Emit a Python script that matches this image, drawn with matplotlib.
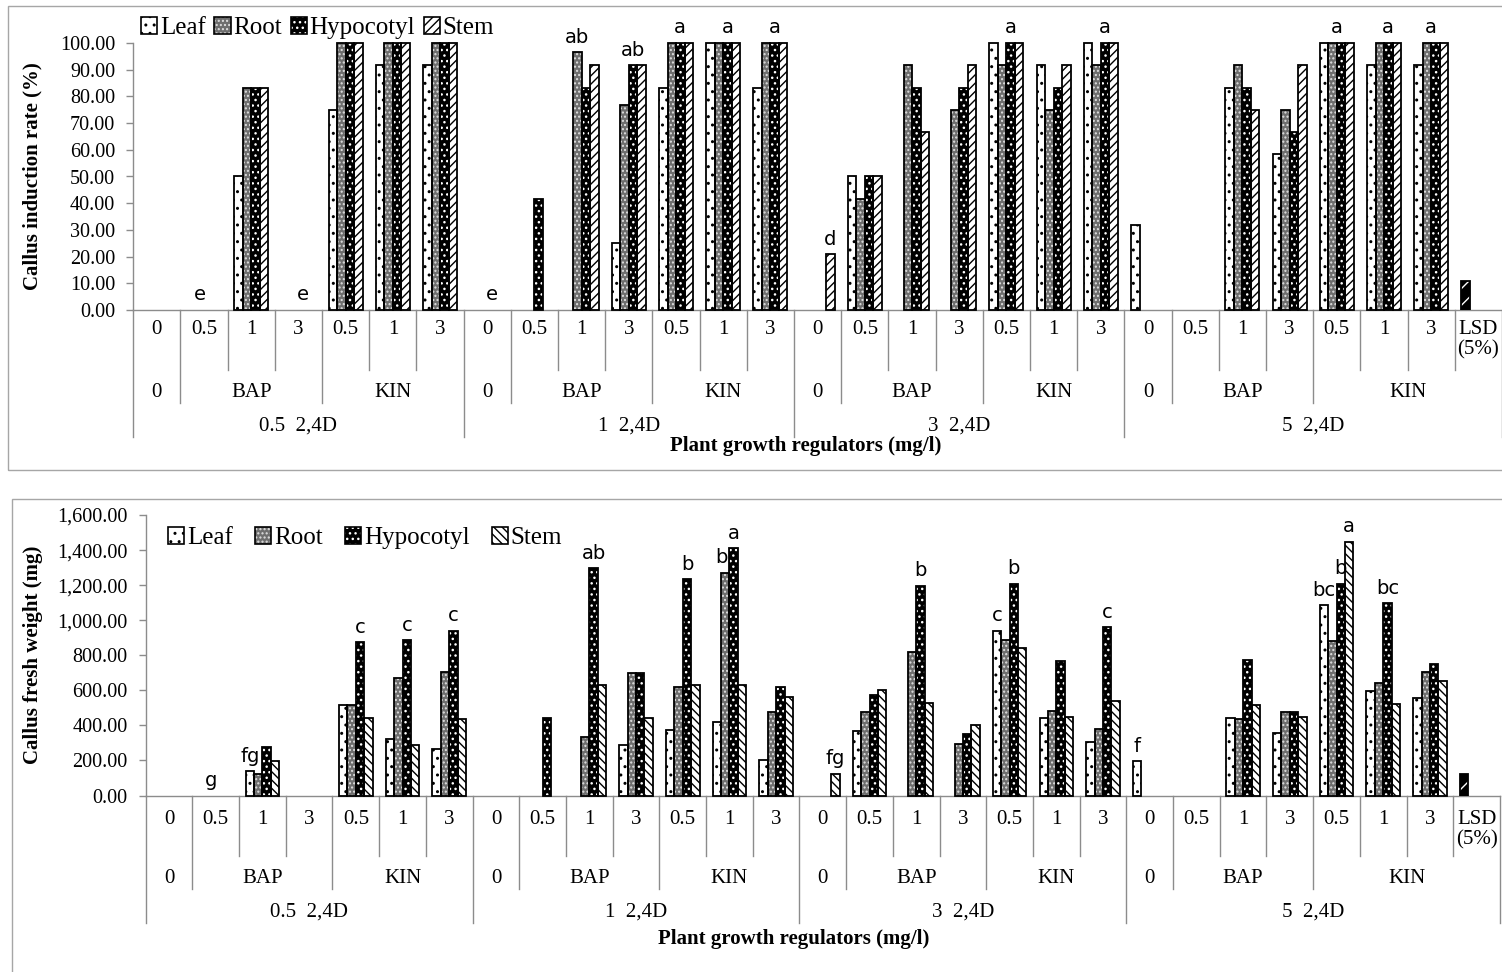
import matplotlib.pyplot as plt
import numpy as np
from matplotlib.patches import Patch, Rectangle
from matplotlib.legend_handler import HandlerTuple

plt.rcParams['font.family'] = ['Liberation Serif', 'DejaVu Serif']
plt.rcParams['hatch.linewidth'] = 1.0

# x axis levels
level1 = ['0', '0.5', '1', '3', '0.5', '1', '3'] * 4 + ['LSD\n(5%)']
level2 = ['0', 'BAP', 'KIN']
level3 = ['0.5  2,4D', '1  2,4D', '3  2,4D', '5  2,4D']
series = ['Leaf', 'Root', 'Hypocotyl', 'Stem']

# callus induction rate (%)
rate_leaf = [0, 0, 50, 0, 75, 91.67, 91.67,
             0, 0, 0, 25, 83.33, 100, 83.33,
             0, 50, 0, 0, 100, 91.67, 100,
             31.67, 0, 83.33, 58.33, 100, 91.67, 91.67]
rate_root = [0, 0, 83.33, 0, 100, 100, 100,
             0, 0, 96.5, 76.67, 100, 100, 100,
             0, 41.67, 91.67, 75, 91.67, 75, 91.67,
             0, 0, 91.67, 75, 100, 100, 100]
rate_hyp = [0, 0, 83.33, 0, 100, 100, 100,
            0, 41.67, 83.33, 91.67, 100, 100, 100,
            0, 50, 83.33, 83.33, 100, 83.33, 100,
            0, 0, 83.33, 66.67, 100, 100, 100]
rate_stem = [0, 0, 83.33, 0, 100, 100, 100,
             0, 0, 91.67, 91.67, 100, 100, 100,
             20.83, 50, 66.67, 91.67, 100, 91.67, 100,
             0, 0, 75, 91.67, 100, 100, 100]
rate_lsd = 10.9
# (category, series position, letter)
rate_letters = [(1, 1, 'e'), (3, 2, 'e'), (7, 2, 'e'), (9, 1, 'ab'), (10, 2, 'ab'),
                (11, 2, 'a'), (12, 2, 'a'), (13, 2, 'a'), (14, 3, 'd'), (18, 2, 'a'),
                (20, 2, 'a'), (25, 1.5, 'a'), (26, 2, 'a'), (27, 1.5, 'a')]

# callus fresh weight (mg)
wt_leaf = [0, 0, 137, 0, 516, 323, 266,
           0, 0, 0, 289, 376, 421, 205,
           0, 370, 0, 0, 940, 442, 307,
           195, 0, 442, 357, 1086, 594, 554]
wt_root = [0, 0, 124, 0, 516, 670, 702,
           0, 0, 332, 699, 621, 1272, 475,
           0, 475, 816, 294, 886, 484, 380,
           0, 0, 435, 475, 883, 640, 706]
wt_hyp = [0, 0, 275, 0, 873, 886, 940,
          0, 442, 1295, 699, 1234, 1410, 621,
          0, 573, 1196, 351, 1209, 765, 959,
          0, 0, 773, 475, 1209, 1097, 750]
wt_stem = [0, 0, 199, 0, 442, 289, 437,
           0, 0, 632, 442, 632, 632, 560,
           123, 602, 528, 404, 841, 446, 541,
           0, 0, 516, 446, 1448, 522, 655]
wt_lsd = 123
wt_letters = [(1, 1, 'g'), (2, 0, 'fg'), (4, 2, 'c'), (5, 2, 'c'), (6, 2, 'c'),
              (9, 2, 'ab'), (11, 2, 'b'), (12, 0.5, 'b'), (12, 2, 'a'), (14, 3, 'fg'),
              (16, 2, 'b'), (18, 0, 'c'), (18, 2, 'b'), (20, 2, 'c'), (21, 0, 'f'),
              (25, 0, 'bc'), (25, 2, 'b'), (25, 3, 'a'), (26, 2, 'bc')]

W, H = 1502, 972
GRAY = '#8c8c8c'
BW = 0.18

fig = plt.figure(figsize=(W / 100, H / 100), dpi=100)


def px_box(l, t, r, b):
    return [l / W, 1 - b / H, (r - l) / W, (b - t) / H]


def style_list(stem_hatch):
    return [dict(face='white', hatch='..', hc='black'),
            dict(face='#6e6e6e', hatch='....', hc='#e0e0e0'),
            dict(face='black', hatch='...', hc='white'),
            dict(face='white', hatch=stem_hatch, hc='black')]


def draw_bars(ax, values, lsd, styles, letters, pad):
    n = len(values[0])
    for k, vals in enumerate(values):
        vals = np.array(vals, dtype=float)
        idx = np.nonzero(vals)[0]
        xs = idx + 0.5 + (k - 1.5) * BW
        st = styles[k]
        ax.bar(xs, vals[idx], BW, color=st['face'], edgecolor=st['hc'],
               hatch=st['hatch'], linewidth=0, clip_on=False, zorder=2)
        ax.bar(xs, vals[idx], BW, fill=False, edgecolor='black',
               linewidth=1.3, clip_on=False, zorder=3)
    # LSD bar
    x_lsd = n + 0.5 - 1.5 * BW
    ax.bar(x_lsd, lsd, BW, color='black', edgecolor='white', hatch='//',
           linewidth=0, zorder=2)
    ax.bar(x_lsd, lsd, BW, fill=False, edgecolor='black', linewidth=1.3, zorder=3)
    for cat, s, txt in letters:
        ks = range(int(np.floor(s)), int(np.ceil(s)) + 1)
        y = max(values[k][cat] for k in ks)
        x = cat + 0.5 + (s - 1.5) * BW
        ax.annotate(txt, (x, y), xytext=(0, pad), textcoords='offset points',
                    ha='center', va='bottom', fontsize=14,
                    family=['DejaVu Sans'], annotation_clip=False)


def draw_categories(ax, l1_off):
    h = ax.bbox.height
    tr = ax.get_xaxis_transform()

    def fy(px):
        return -px / h

    n = len(level1)
    for b in range(n + 1):
        if b in (0, 7, 14, 21, n):
            depth = 127
        elif b % 7 in (1, 4) and b < 28:
            depth = 93
        else:
            depth = 60
        ax.plot([b, b], [0, fy(depth)], transform=tr, color=GRAY, lw=1,
                clip_on=False)
    for i, t in enumerate(level1):
        ax.text(i + 0.5, fy(l1_off), t, transform=tr, ha='center', va='top',
                fontsize=15, linespacing=1.1)
    for g in range(4):
        starts = [7 * g, 7 * g + 1, 7 * g + 4]
        ends = [7 * g + 1, 7 * g + 4, 7 * g + 7 if g < 3 else n]
        for lab, s0, s1 in zip(level2, starts, ends):
            ax.text((s0 + s1) / 2, fy(73), lab, transform=tr, ha='center',
                    va='top', fontsize=15)
        s1 = 7 * g + 7 if g < 3 else n
        ax.text((7 * g + s1) / 2, fy(107), level3[g], transform=tr,
                ha='center', va='top', fontsize=15)


def style_axes(ax, ymax, step, fmt, ylabel, label_x):
    ax.set_xlim(0, len(level1))
    ax.set_ylim(0, ymax)
    ax.set_yticks(np.arange(0, ymax + step / 2, step))
    ax.set_yticklabels([fmt.format(v) for v in np.arange(0, ymax + step / 2, step)])
    ax.set_xticks([])
    for side in ('top', 'right'):
        ax.spines[side].set_visible(False)
    for side in ('left', 'bottom'):
        ax.spines[side].set_color(GRAY)
        ax.spines[side].set_linewidth(1)
    ax.tick_params(axis='y', length=5, width=1, color=GRAY, labelsize=14.5, pad=8)
    ax.set_ylabel(ylabel, fontsize=15, fontweight='bold')
    ax.yaxis.set_label_coords(label_x, 0.5)


def legend_handles(styles):
    return [(Patch(facecolor=st['face'], edgecolor=st['hc'], hatch=st['hatch'], lw=0),
             Patch(fill=False, edgecolor='black', lw=1.2)) for st in styles]


# ---- top panel: induction rate ----
ax1 = fig.add_axes(px_box(133.3, 43, 1502, 310))
top_styles = style_list('////')
draw_bars(ax1, [rate_leaf, rate_root, rate_hyp, rate_stem], rate_lsd,
          top_styles, rate_letters, 4)
style_axes(ax1, 100, 10, '{:.2f}', 'Callus induction rate (%)', -0.066)
draw_categories(ax1, 10)
fig.text(806 / W, 1 - 436 / H, 'Plant growth regulators (mg/l)', ha='center',
         va='top', fontsize=15, fontweight='bold')
fig.legend(legend_handles(top_styles), series,
           handler_map={tuple: HandlerTuple(ndivide=1, pad=0)},
           loc='center left', bbox_to_anchor=(141 / W, 1 - 28 / H), ncol=4,
           frameon=False, handlelength=0.65, handleheight=0.65, handletextpad=0.1,
           columnspacing=0.35, borderpad=0, borderaxespad=0, fontsize=18)

# ---- bottom panel: fresh weight ----
ax2 = fig.add_axes(px_box(145.7, 515, 1500, 795.5))
bot_styles = style_list('\\\\\\\\')
draw_bars(ax2, [wt_leaf, wt_root, wt_hyp, wt_stem], wt_lsd,
          bot_styles, wt_letters, 4)
style_axes(ax2, 1600, 200, '{:,.2f}', 'Callus fresh weight (mg)', -0.076)
draw_categories(ax2, 14)
fig.text(794 / W, 1 - 929 / H, 'Plant growth regulators (mg/l)', ha='center',
         va='top', fontsize=15, fontweight='bold')
fig.legend(legend_handles(bot_styles), series,
           handler_map={tuple: HandlerTuple(ndivide=1, pad=0)},
           loc='center left', bbox_to_anchor=(168 / W, 1 - 538 / H), ncol=4,
           frameon=False, handlelength=0.65, handleheight=0.65, handletextpad=0.1,
           columnspacing=0.9, borderpad=0, borderaxespad=0, fontsize=18)

# chart-area borders
fig.add_artist(Rectangle((8 / W, 1 - 470 / H), 1.1, (470 - 6) / H,
                         transform=fig.transFigure, fill=False,
                         edgecolor='#a6a6a6', lw=1))
fig.add_artist(Rectangle((12 / W, 1 - 990 / H), 1.1, (990 - 499) / H,
                         transform=fig.transFigure, fill=False,
                         edgecolor='#a6a6a6', lw=1))

fig.savefig('out.png', dpi=100)
